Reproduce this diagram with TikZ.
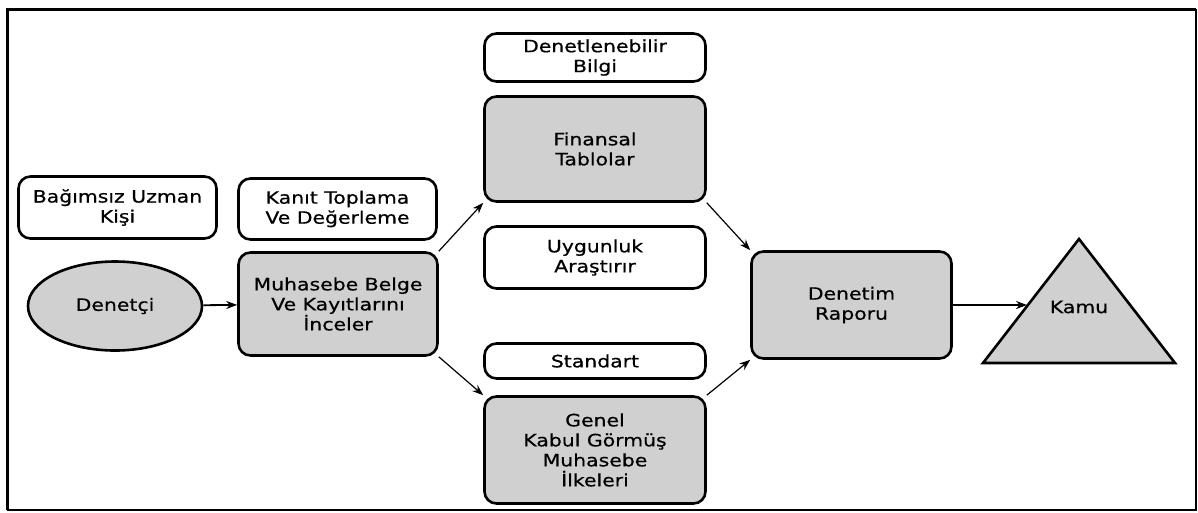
\documentclass[tikz,border=0pt]{standalone}
\usepackage{fontspec}
\setmainfont{DejaVu Sans}[FakeStretch=1.2,FakeBold=0.6]
\usetikzlibrary{arrows.meta,shapes.geometric}
\definecolor{boxgray}{RGB}{208,208,208}
\begin{document}
\begin{tikzpicture}[x=1pt,y=-1pt,
        box/.style={draw, line width=2.6pt, rounded corners=12pt, align=center,
                font=\fontsize{17}{20}\selectfont, inner sep=0pt},
        whitebox/.style={box, fill=white},
        graybox/.style={box, fill=boxgray},
        link/.style={-{Stealth[length=11pt,width=8pt]}, line width=1.2pt}]
    \useasboundingbox (0,0) rectangle (1198,512);
    \draw[line width=3pt] (7,510) -- (7,9) -- (1196,9);
    \draw[line width=1.5pt] (1196,9) -- (1196,510) -- (7,510);

    \node[whitebox, minimum width=198pt, minimum height=62pt] (uzman) at (117.5,207.5) {Bağımsız Uzman\\Kişi};
    \node[whitebox, minimum width=198pt, minimum height=61pt] (kanit) at (337.5,209) {Kanıt Toplama\\Ve Değerleme};
    \node[draw, ellipse, line width=2.6pt, fill=boxgray, minimum width=174pt, minimum height=89pt,
        font=\fontsize{17}{20}\selectfont] (denetci) at (115,306) {Denetçi};
    \node[graybox, minimum width=199pt, minimum height=103pt] (muhasebe) at (338,304) {Muhasebe Belge\\Ve Kayıtlarını\\İnceler};

    \node[whitebox, minimum width=221pt, minimum height=48pt] (bilgi) at (595,57.5) {Denetlenebilir\\Bilgi};
    \node[graybox, minimum width=221pt, minimum height=105pt] (finansal) at (595,149) {Finansal\\Tablolar};
    \node[whitebox, minimum width=221pt, minimum height=62pt] (uygunluk) at (595,257.5) {Uygunluk\\Araştırır};
    \node[whitebox, minimum width=221pt, minimum height=35pt] (standart) at (595,361) {Standart};
    \node[graybox, minimum width=221pt, minimum height=107pt] (genel) at (595,450) {Genel\\Kabul Görmüş\\Muhasebe\\İlkeleri};

    \node[graybox, minimum width=200pt, minimum height=107pt] (rapor) at (851.5,305) {Denetim\\Raporu};

    \draw[line width=2.6pt, fill=boxgray] (983,363) -- (1079,239) -- (1175,363) -- cycle;
    \node[font=\fontsize{17}{20}\selectfont] (kamu) at (1079,307) {Kamu};
    \coordinate (kamuin) at (1027,305);

    \draw[link, line width=1.8pt] (denetci) -- (muhasebe);
    \draw[link] (muhasebe.north east) -- (finansal.south west);
    \draw[link] (muhasebe.south east) -- (genel.north west);
    \draw[link] (finansal.south east) -- (rapor.north west);
    \draw[link] (genel.north east) -- (rapor.south west);
    \draw[link, line width=1.8pt] (rapor.east) -- (kamuin);
\end{tikzpicture}
\end{document}
